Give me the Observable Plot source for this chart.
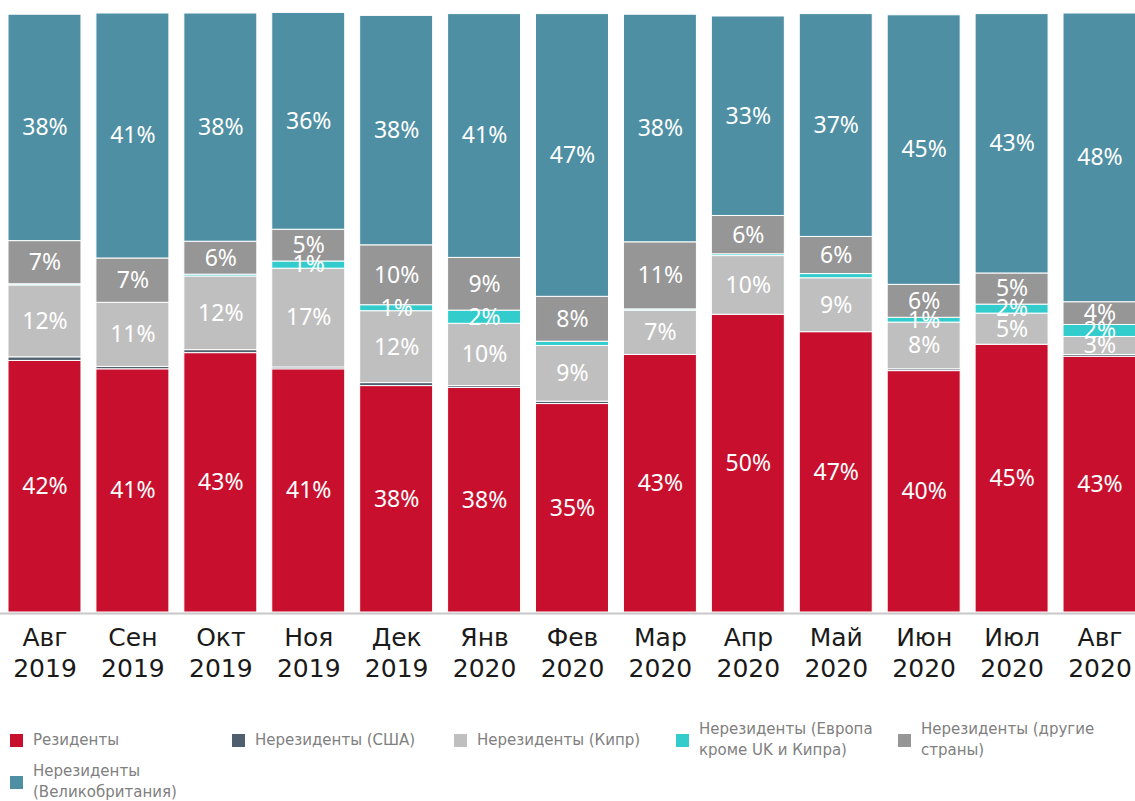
<!DOCTYPE html>
<html>
<head>
<meta charset="utf-8">
<script src="https://cdn.jsdelivr.net/npm/d3@7"></script>
<script src="https://cdn.jsdelivr.net/npm/@observablehq/plot@0.6"></script>
<style>
  body { margin: 0; background: #fff; }
  #legend { display: flex; flex-wrap: wrap; padding: 19px 0 0 10px; font-family: "DejaVu Sans", sans-serif; font-size: 15px; color: #808080; }
  .item { width: 222px; display: flex; align-items: center; line-height: 21px; }
  .sw { width: 13px; height: 13px; margin-right: 10px; flex: none; }
  .lbl { max-width: 185px; }
</style>
</head>
<body>
<div id="chart"></div>
<div id="legend"></div>
<script>
const months = ["Авг 2019","Сен 2019","Окт 2019","Ноя 2019","Дек 2019","Янв 2020","Фев 2020","Мар 2020","Апр 2020","Май 2020","Июн 2020","Июл 2020","Авг 2020"];
const seriesNames = ["Резиденты","Нерезиденты (США)","Нерезиденты (Кипр)","Нерезиденты (Европа кроме UK и Кипра)","Нерезиденты (другие страны)","Нерезиденты (Великобритания)"];
const seriesColors = ["#c8102e","#4f5f6e","#bfbfbf","#33cccc","#969696","#4e8fa3"];

const residents = [42, 40.6, 43.3, 40.6, 37.8, 37.5, 34.8, 43, 49.7, 46.8, 40.3, 44.7, 42.7];
const usa       = [0.6, 0.4, 0.5, 0.3, 0.5, 0.3, 0.4, 0, 0, 0, 0.3, 0, 0.3];
const cyprus    = [12, 10.7, 12.3, 16.5, 12, 10.4, 9.3, 7.4, 9.8, 9, 7.8, 5.2, 3];
const europe    = [0.2, 0, 0.3, 1.2, 1.0, 2.2, 0.7, 0.2, 0.3, 0.7, 0.8, 1.5, 2];
const other     = [7.2, 7.4, 5.5, 5.3, 10, 8.8, 7.5, 11.2, 6.4, 6.2, 5.5, 5.2, 3.8];
const uk        = [37.8, 40.9, 38.1, 36.2, 38.3, 40.7, 47.2, 38, 33.3, 37.2, 45, 43.3, 48.2];

const seriesValues = [residents, usa, cyprus, europe, other, uk];
const data = [];
seriesValues.forEach((vals, s) => {
  vals.forEach((v, i) => data.push({month: months[i], series: seriesNames[s], value: v}));
});

const chart = Plot.plot({
  width: 1135,
  height: 700,
  marginTop: 13,
  marginBottom: 88,
  marginLeft: 0,
  marginRight: 0,
  style: {fontFamily: "DejaVu Sans, sans-serif", color: "#1a1a1a", background: "#fff"},
  x: {domain: months, range: [8, 1136], paddingInner: 0.17, paddingOuter: 0, round: false, label: null},
  y: {domain: [0, 100], axis: null},
  color: {domain: seriesNames, range: seriesColors},
  marks: [
    Plot.barY(data, {x: "month", y: "value", fill: "series", z: "series", stroke: "white", strokeWidth: 1}),
    Plot.text(data, Plot.stackY({
      x: "month", y: "value", z: "series",
      text: d => d.value >= 0.75 && d.series !== seriesNames[1] ? Math.round(d.value) + "%" : null,
      fill: "white", fontSize: 23, fontFamily: "Noto Sans, sans-serif"
    })),
    Plot.ruleY([0], {stroke: "#c8c8c8", strokeWidth: 2, dy: 1}),
    Plot.axisX({tickSize: 0, tickPadding: 11, fontSize: 25, lineHeight: 1.25, label: null, tickFormat: d => d.replace(" ", "\n")})
  ]
});
document.getElementById("chart").appendChild(chart);

const legend = document.getElementById("legend");
seriesNames.forEach((name, i) => {
  const item = document.createElement("div");
  item.className = "item";
  const sw = document.createElement("span");
  sw.className = "sw";
  sw.style.background = seriesColors[i];
  const lbl = document.createElement("span");
  lbl.className = "lbl";
  lbl.textContent = name;
  item.appendChild(sw);
  item.appendChild(lbl);
  legend.appendChild(item);
});
</script>
</body>
</html>
